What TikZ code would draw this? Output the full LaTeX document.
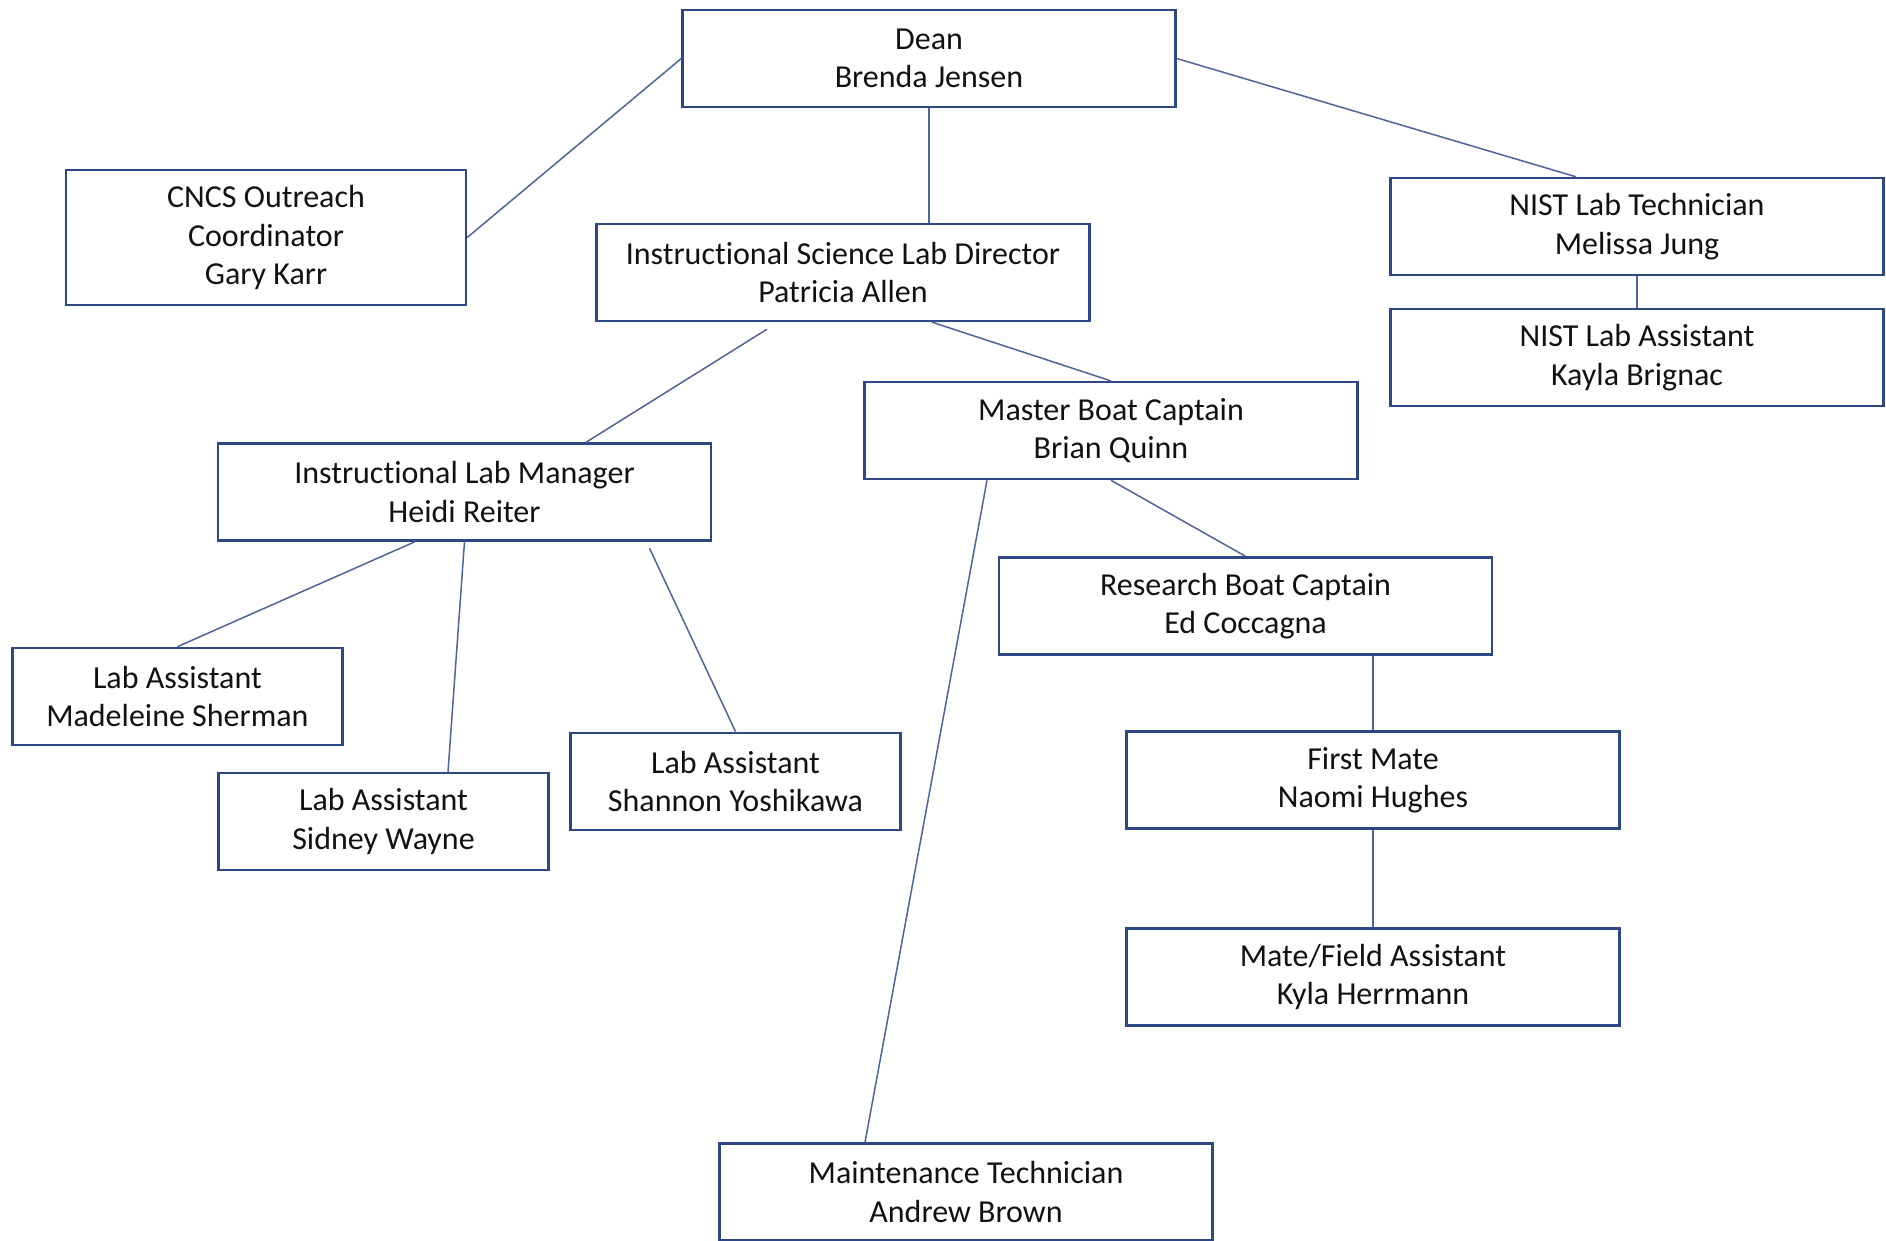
\documentclass[tikz,border=0pt]{standalone}
\usepackage{fontspec}
\setmainfont{Carlito}[Ligatures=NoCommon]
\definecolor{boxblue}{HTML}{2E4785}
\definecolor{lineblue}{HTML}{50639C}
\definecolor{txt}{HTML}{111111}
\begin{document}
\begin{tikzpicture}[x=1pt,y=-1pt,
  orgbox/.style={draw=boxblue, line width=2.4pt, rectangle, inner sep=0pt,
    align=center, text=txt, font=\fontsize{32}{38.5}\selectfont},
  wide/.style={orgbox, minimum width=493pt, minimum height=97pt},
  narrow/.style={orgbox, minimum width=330pt, minimum height=97pt},
  link/.style={draw=lineblue, line width=1.5pt}]
\useasboundingbox (0,0) rectangle (1886,1241);
\node[wide] (dean) at (929,58.5) {Dean\\Brenda Jensen};
\node[orgbox, minimum width=400pt, minimum height=135pt] (cncs) at (266,237.5) {CNCS Outreach\\Coordinator\\Gary Karr};
\node[wide] (isl) at (843,272.5) {Instructional Science Lab Director\\Patricia Allen};
\node[wide] (nistt) at (1637,226.5) {NIST Lab Technician\\Melissa Jung};
\node[wide] (nista) at (1637,357.5) {NIST Lab Assistant\\Kayla Brignac};
\node[wide] (mbc) at (1111,430.6) {Master Boat Captain\\Brian Quinn};
\node[wide] (ilm) at (464.5,492) {Instructional Lab Manager\\Heidi Reiter};
\node[wide] (rbc) at (1245.5,606) {Research Boat Captain\\Ed Coccagna};
\node[narrow] (la1) at (177.4,696.4) {Lab Assistant\\Madeleine Sherman};
\node[narrow] (la2) at (383.5,821.5) {Lab Assistant\\Sidney Wayne};
\node[narrow] (la3) at (735.5,781.3) {Lab Assistant\\Shannon Yoshikawa};
\node[wide] (fm) at (1373,780) {First Mate\\Naomi Hughes};
\node[wide] (mfa) at (1373,977) {Mate/Field Assistant\\Kyla Herrmann};
\node[wide] (mt) at (966,1192) {Maintenance Technician\\Andrew Brown};

\draw[link] (dean.west) -- (cncs.east);
\draw[link] (dean.south) -- (dean.south |- isl.north);
\draw[link] (dean.east) -- ([xshift=-61pt]nistt.north);
\draw[link] (nistt.south) -- (nista.north);
\draw[link] ([xshift=-76pt,yshift=-7pt]isl.south) -- ([xshift=121.5pt]ilm.north);
\draw[link] ([xshift=89pt]isl.south) -- (mbc.north);
\draw[link] (mbc.south) -- (rbc.north);
\draw[link] ([xshift=-124pt]mbc.south) -- ([xshift=-101pt]mt.north);
\draw[link] (fm.north |- rbc.south) -- (fm.north);
\draw[link] (fm.south) -- (mfa.north);
\draw[link] ([xshift=-49.5pt]ilm.south) -- (la1.north);
\draw[link] (ilm.south) -- ([xshift=64.5pt]la2.north);
\draw[link] ([xshift=185pt,yshift=-6.5pt]ilm.south) -- (la3.north);
\end{tikzpicture}
\end{document}
